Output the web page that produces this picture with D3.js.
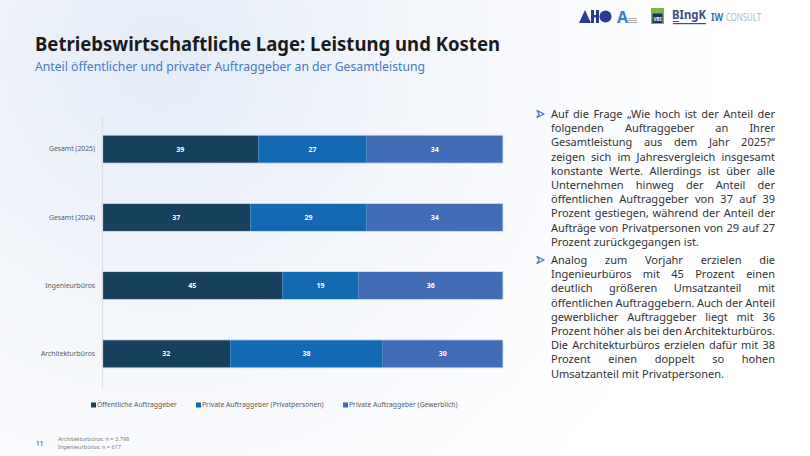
<!DOCTYPE html>
<html lang="de">
  <head>
    <meta charset="UTF-8">
    <title>Betriebswirtschaftliche Lage</title>
    <style>
      html, body {
        margin: 0;
        padding: 0;
        background: #fff;
      }
      svg {
        display: block;
        font-family: "Noto Sans", Roboto, sans-serif;
      }
    </style>
  </head>
  <body>
    <svg width="810" height="456"></svg>
    <script src="https://cdn.jsdelivr.net/npm/d3@7"></script>
    <script>

      // Daten
      const categories = ['Gesamt (2025)', 'Gesamt (2024)', 'Ingenieurbüros', 'Architekturbüros']
      const seriesNames = ['Öffentliche Auftraggeber', 'Private Auftraggeber (Privatpersonen)', 'Private Auftraggeber (Gewerblich)']
      const oeffentlich = [39, 37, 45, 32]
      const privatpersonen = [27, 29, 19, 38]
      const gewerblich = [34, 34, 36, 30]
      const colors = ['#17405f', '#1469b3', '#416cb6']

      const para1 = [
        'Auf die Frage „Wie hoch ist der Anteil der',
        'folgenden Auftraggeber an Ihrer',
        'Gesamtleistung aus dem Jahr 2025?“',
        'zeigen sich im Jahresvergleich insgesamt',
        'konstante Werte. Allerdings ist über alle',
        'Unternehmen hinweg der Anteil der',
        'öffentlichen Auftraggeber von 37 auf 39',
        'Prozent gestiegen, während der Anteil der',
        'Aufträge von Privatpersonen von 29 auf 27',
        'Prozent zurückgegangen ist.'
      ]
      const para2 = [
        'Analog zum Vorjahr erzielen die',
        'Ingenieurbüros mit 45 Prozent einen',
        'deutlich größeren Umsatzanteil mit',
        'öffentlichen Auftraggebern. Auch der Anteil',
        'gewerblicher Auftraggeber liegt mit 36',
        'Prozent höher als bei den Architekturbüros.',
        'Die Architekturbüros erzielen dafür mit 38',
        'Prozent einen doppelt so hohen',
        'Umsatzanteil mit Privatpersonen.'
      ]

      const svg = d3.select('svg')
      const table = categories.map((c, i) => ({
        cat: c, s0: oeffentlich[i], s1: privatpersonen[i], s2: gewerblich[i]
      }))

      // Hintergrund mit leichtem Blauverlauf
      const defs = svg.append('defs')
      const grad = defs.append('radialGradient')
        .attr('id', 'bg').attr('gradientUnits', 'userSpaceOnUse')
        .attr('cx', 160).attr('cy', 60).attr('r', 560)
      grad.append('stop').attr('offset', '0').attr('stop-color', '#e4ecf7')
      grad.append('stop').attr('offset', '0.45').attr('stop-color', '#f3f6fb')
      grad.append('stop').attr('offset', '1').attr('stop-color', '#ffffff')
      svg.append('rect').attr('width', 810).attr('height', 456).attr('fill', 'url(#bg)')

      // Titel
      svg.append('text')
        .attr('x', 35).attr('y', 51)
        .attr('font-size', 19).attr('font-weight', 'bold').attr('fill', '#1b1b1b')
        .attr('textLength', 465).attr('lengthAdjust', 'spacingAndGlyphs')
        .text('Betriebswirtschaftliche Lage: Leistung und Kosten')
      svg.append('text')
        .attr('x', 35).attr('y', 71)
        .attr('font-size', 12.3).attr('fill', '#4a78c6')
        .attr('textLength', 390).attr('lengthAdjust', 'spacingAndGlyphs')
        .text('Anteil öffentlicher und privater Auftraggeber an der Gesamtleistung')

      // Skalen
      const x = d3.scaleLinear().domain([0, 100]).range([102, 503])
      const y = d3.scaleBand().domain(categories).range([115, 388])
        .paddingInner(0.59).paddingOuter(0.295)

      const stack = d3.stack().keys(['s0', 's1', 's2'])
      const layers = stack(table)

      const g = svg.append('g')
      const layer = g.selectAll('.layer')
        .data(layers)
        .enter().append('g')
        .attr('class', 'layer')
        .attr('fill', (d, i) => colors[i])

      layer.selectAll('rect')
        .data(d => d)
        .enter().append('rect')
        .attr('x', d => x(d[0]))
        .attr('y', d => y(d.data.cat))
        .attr('width', d => x(d[1]) - x(d[0]))
        .attr('height', y.bandwidth())

      // Rahmen um jeden Balken
      g.selectAll('.frame')
        .data(table)
        .enter().append('rect')
        .attr('x', x(0))
        .attr('y', d => y(d.cat))
        .attr('width', x(100) - x(0))
        .attr('height', y.bandwidth())
        .attr('fill', 'none')
        .attr('stroke', '#d6e2f0')
        .attr('stroke-width', 0.8)

      layer.selectAll('text')
        .data(d => d)
        .enter().append('text')
        .attr('x', d => (x(d[0]) + x(d[1])) / 2)
        .attr('y', d => y(d.data.cat) + y.bandwidth() / 2)
        .attr('dy', '0.35em')
        .attr('text-anchor', 'middle')
        .attr('font-size', 7)
        .attr('font-weight', 'bold')
        .attr('fill', '#fff')
        .text(d => d[1] - d[0])

      // Achse
      const axis = svg.append('g')
        .attr('transform', 'translate(' + x(0) + ',0)')
        .call(d3.axisLeft(y).tickSize(0).tickPadding(7))
      axis.select('.domain').attr('stroke', '#dcdfe4').attr('stroke-width', 1.2)
      axis.selectAll('text')
        .attr('font-family', '"Noto Sans", Roboto, sans-serif')
        .attr('font-size', 6.8).attr('fill', '#595959')

      // Legende
      const legendX = [91, 196, 343]
      const legend = svg.selectAll('.legend')
        .data(seriesNames)
        .enter().append('g')
        .attr('class', 'legend')
        .attr('transform', (d, i) => 'translate(' + legendX[i] + ',405)')
      legend.append('rect')
        .attr('x', 0).attr('y', -2.5).attr('width', 5).attr('height', 5)
        .attr('fill', (d, i) => colors[i])
      legend.append('text')
        .attr('x', 6).attr('dy', '0.35em')
        .attr('font-size', 6.8).attr('fill', '#595959')
        .text(d => d)

      // Fußzeile
      svg.append('text').attr('x', 36).attr('y', 446)
        .attr('font-size', 6.5).attr('fill', '#333').text('11')
      svg.append('text').attr('x', 58).attr('y', 441)
        .attr('font-size', 5.6).attr('fill', '#7a7a7a').text('Architekturbüros: n = 3.798')
      svg.append('text').attr('x', 58).attr('y', 449)
        .attr('font-size', 5.6).attr('fill', '#7a7a7a').text('Ingenieurbüros: n = 617')

      // Textblöcke im Blocksatz
      const textX = 551
      const textW = 224
      const lineH = 14.2

      function drawPara (lines, top) {
        svg.append('path')
          .attr('d', 'M' + 537 + ',' + (top - 7.5) + 'l7,3.5l-7,3.5l2.2,-3.5z')
          .attr('fill', 'none').attr('stroke', '#4a6fc0').attr('stroke-width', 1.3)
          .attr('stroke-linejoin', 'round')
        lines.forEach(function (line, li) {
          const words = line.split(' ')
          const ty = top + li * lineH
          const grp = svg.append('g')
          const nodes = words.map(w => grp.append('text')
            .attr('y', ty).attr('font-size', 11).attr('fill', '#333').text(w))
          const widths = nodes.map(n => n.node().getComputedTextLength())
          const total = d3.sum(widths)
          const last = li === lines.length - 1
          const gap = (last || words.length < 2) ? 3.1 : (textW - total) / (words.length - 1)
          let cx = textX
          nodes.forEach(function (n, i) {
            n.attr('x', cx)
            cx += widths[i] + gap
          })
        })
      }
      drawPara(para1, 118)
      drawPara(para2, 264)

      // Logos (vereinfacht)
      const logos = svg.append('g')
      logos.append('path').attr('d', 'M579,23 L585,10 L591,23 Z').attr('fill', '#2d3a91')
      logos.append('rect').attr('x', 591).attr('y', 10).attr('width', 3).attr('height', 13).attr('fill', '#2d3a91')
      logos.append('rect').attr('x', 596).attr('y', 10).attr('width', 3).attr('height', 13).attr('fill', '#2d3a91')
      logos.append('rect').attr('x', 592).attr('y', 15).attr('width', 6).attr('height', 2.5).attr('fill', '#2d3a91')
      logos.append('circle').attr('cx', 605.5).attr('cy', 16.5).attr('r', 6).attr('fill', '#2d3a91')
      logos.append('text').attr('x', 617).attr('y', 23).attr('font-size', 16).attr('font-weight', 'bold')
        .attr('fill', '#3a7fc2').text('A')
      ;[18, 20, 22].forEach(yy => logos.append('rect').attr('x', 628).attr('y', yy)
        .attr('width', 9).attr('height', 0.7).attr('fill', '#888'))
      logos.append('rect').attr('x', 651).attr('y', 8).attr('width', 13).attr('height', 16).attr('fill', '#7ab648')
      logos.append('rect').attr('x', 652.5).attr('y', 13.5).attr('width', 10).attr('height', 9.5).attr('fill', '#1f2f63')
      logos.append('text').attr('x', 657.5).attr('y', 21).attr('text-anchor', 'middle')
        .attr('font-size', 4.8).attr('font-weight', 'bold').attr('fill', '#fff').text('VBI')
      logos.append('text').attr('x', 672).attr('y', 19).attr('font-size', 12.5).attr('font-weight', 'bold')
        .attr('fill', '#3d4f80').attr('textLength', 34).attr('lengthAdjust', 'spacingAndGlyphs').text('BIngK')
      logos.append('rect').attr('x', 673).attr('y', 21).attr('width', 6).attr('height', 1).attr('fill', '#3d4f80')
      logos.append('rect').attr('x', 673).attr('y', 23).attr('width', 33).attr('height', 1.2).attr('fill', '#3d4f80')
      logos.append('text').attr('x', 711).attr('y', 21).attr('font-size', 11).attr('font-weight', 'bold')
        .attr('fill', '#2f6fc1').attr('textLength', 12).attr('lengthAdjust', 'spacingAndGlyphs').text('IW')
      logos.append('text').attr('x', 726).attr('y', 21).attr('font-size', 11)
        .attr('fill', '#a9b9d2').attr('textLength', 35).attr('lengthAdjust', 'spacingAndGlyphs').text('CONSULT')

    </script>
  </body>
</html>
